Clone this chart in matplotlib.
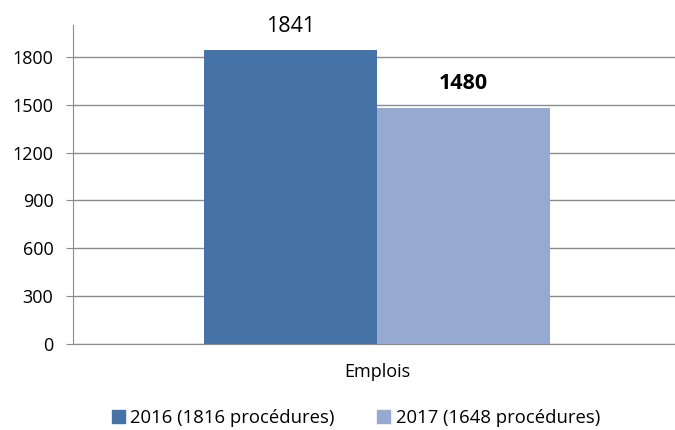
import matplotlib.pyplot as plt
from matplotlib.patches import Patch

category = 'Emplois'
series = ['2016 (1816 procédures)', '2017 (1648 procédures)']
values = [1841, 1480]
colors = ['#4573a7', '#95a9d1']
yticks = [0, 300, 600, 900, 1200, 1500, 1800]

plt.rcParams['font.family'] = ['Open Sans', 'DejaVu Sans']

fig = plt.figure(figsize=(6.75, 4.3), dpi=100)
ax = fig.add_axes([0.108, 0.2, 0.892, 0.742])

w = 0.287
offsets = [-w / 2, w / 2]
bars = []
for off, v, c in zip(offsets, values, colors):
    bars.append(ax.bar(off, v, w, color=c, zorder=3)[0])

weights = ['normal', 'bold']
for b, v, fw in zip(bars, values, weights):
    ax.annotate(str(v), (b.get_x() + w / 2, v), xytext=(0, 13.5),
                textcoords='offset points', ha='center', va='baseline',
                fontsize=15.5, fontweight=fw)

ax.set_xlim(-0.505, 0.495)
ax.set_ylim(0, 2000)
ax.set_yticks(yticks)
ax.set_yticklabels([str(t) for t in yticks], fontsize=13)
ax.yaxis.grid(True, color='#8c8c8c', linewidth=1, zorder=0)
ax.set_xticks([0])
ax.set_xticklabels([category], fontsize=13)
ax.tick_params(axis='x', length=0, pad=14)
ax.tick_params(axis='y', length=5, color='#8c8c8c', pad=9)

for s in ['top', 'right']:
    ax.spines[s].set_visible(False)
for s in ['left', 'bottom']:
    ax.spines[s].set_color('#8c8c8c')

handles = [Patch(color=c, label=l) for c, l in zip(colors, series)]
fig.legend(handles=handles, loc='center', bbox_to_anchor=(0.527, 0.028),
           ncol=2, frameon=False, fontsize=13.3, handlelength=0.7,
           handleheight=0.7, handletextpad=0.3, columnspacing=2.3)

fig.savefig('out.png', dpi=100)
